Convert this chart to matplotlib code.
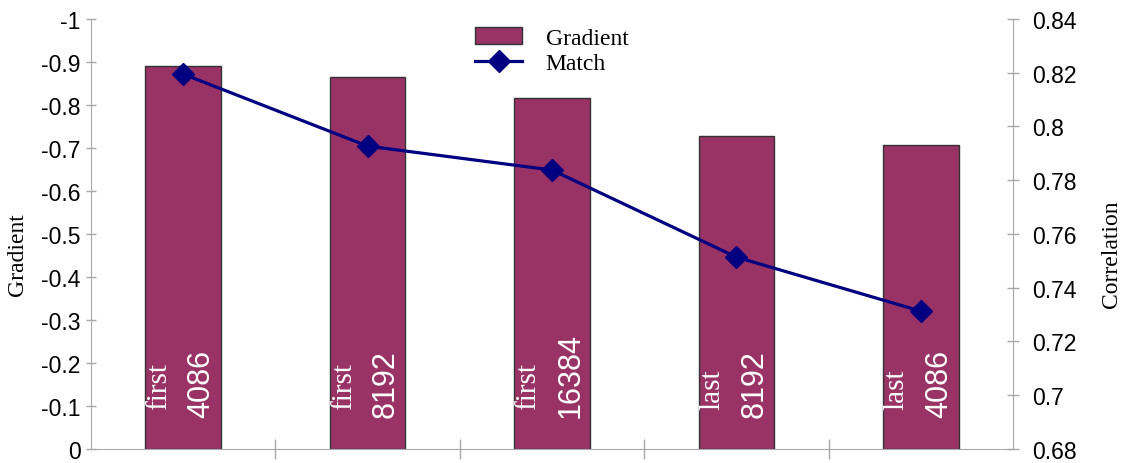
import matplotlib
matplotlib.use("Agg")
import matplotlib.pyplot as plt
import numpy as np

# valeurs
position = ["first", "first", "first", "last", "last"]
taille = ["4086", "8192", "16384", "8192", "4086"]
gradient = [-0.89, -0.865, -0.816, -0.728, -0.707]
match = [0.8195, 0.7927, 0.7838, 0.7514, 0.7313]

grad_ticks = [0, -0.1, -0.2, -0.3, -0.4, -0.5, -0.6, -0.7, -0.8, -0.9, -1]
corr_ticks = [0.68, 0.7, 0.72, 0.74, 0.76, 0.78, 0.8, 0.82, 0.84]

serif = "Liberation Serif"
sans = "Liberation Sans"
gris = "#a8a8a8"

fig = plt.figure(figsize=(11.26, 4.64), dpi=100)
ax = fig.add_axes([0.0808, 0.0302, 0.8188, 0.9267])
ax2 = ax.twinx()

x = np.arange(len(gradient))
barres = ax.bar(x, gradient, width=0.41, color="#993366", edgecolor="#333333",
                linewidth=1.0, label="Gradient")
ligne, = ax2.plot(x, match, color="#000080", lw=2.3, marker="D", markersize=11,
                  label="Match")

# textes dans les barres
for i in range(len(x)):
    ax.text(x[i] - 0.13, -0.093, position[i], rotation=90, color="white",
            ha="center", va="bottom", fontsize=21, family=serif)
    ax.text(x[i] + 0.10, -0.075, taille[i], rotation=90, color="white",
            ha="center", va="bottom", fontsize=22, family=sans)

ax.set_xlim(-0.5, len(x) - 0.5)
ax.set_ylim(0, -1)
ax.set_yticks(grad_ticks)
ax.set_yticklabels([f"{v:g}" for v in grad_ticks], family=sans, fontsize=16.5)
ax.set_xticks(np.arange(0.5, len(x) - 0.5, 1))
ax.set_xticklabels([])
ax.tick_params(axis="x", direction="inout", length=15, color=gris, width=1)
ax.tick_params(axis="y", direction="inout", length=7, color=gris, width=1, pad=4)
ax.set_ylabel("Gradient", family=serif, fontsize=17)
ax.yaxis.set_label_coords(-0.068, 0.455)

ax2.set_ylim(0.68, 0.84)
ax2.set_yticks(corr_ticks)
ax2.set_yticklabels([f"{v:g}" for v in corr_ticks], family=sans, fontsize=16.5)
ax2.tick_params(axis="y", direction="inout", length=8, color=gris, width=1, pad=10)
ax2.set_ylabel("Correlation", family=serif, fontsize=17)
ax2.yaxis.set_label_coords(1.095, 0.455)

for a in (ax, ax2):
    a.spines["top"].set_visible(False)
    for s in ("left", "right", "bottom"):
        a.spines[s].set_color(gris)
ax2.spines["bottom"].set_visible(False)
ax.spines["right"].set_visible(False)
ax2.spines["left"].set_visible(False)

fig.legend(handles=[barres, ligne], loc="upper center", bbox_to_anchor=(0.49, 0.985),
           frameon=False, prop={"family": serif, "size": 17}, handlelength=2.0,
           handletextpad=1.0, labelspacing=0.15)

fig.savefig("out.png", dpi=100)
